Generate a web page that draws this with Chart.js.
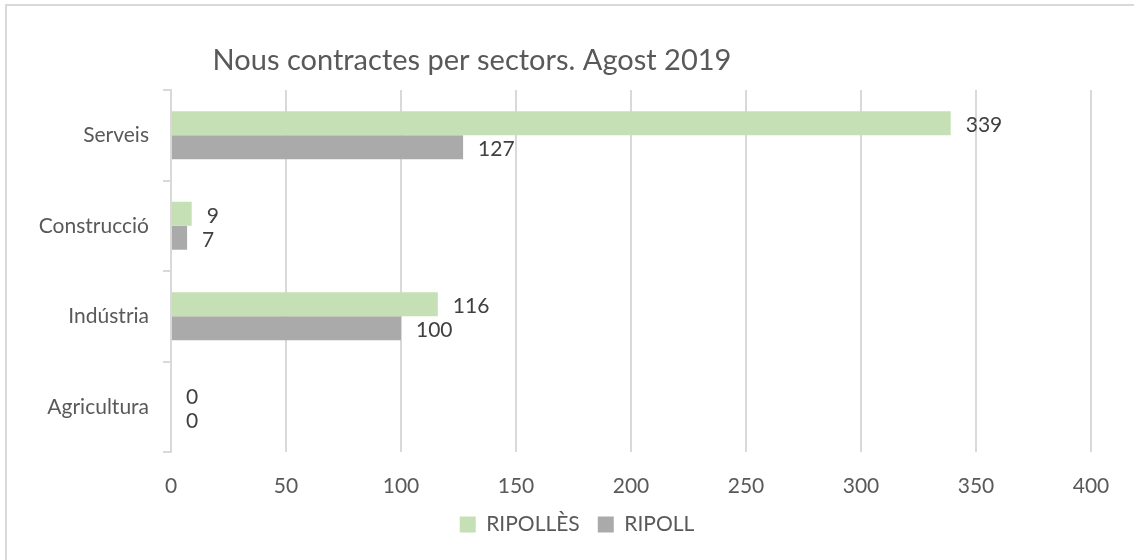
<!DOCTYPE html>
<html>
<head>
<meta charset="utf-8">
<script src="https://cdn.jsdelivr.net/npm/chart.js@4.4.0/dist/chart.umd.min.js"></script>
<style>
  html, body { margin: 0; padding: 0; background: #fff; }
  #wrap { width: 1134px; height: 560px; position: relative; }
</style>
</head>
<body>
<div id="wrap"><canvas id="chart"></canvas></div>
<script>
// values
const sectors = ['Serveis', 'Construcció', 'Indústria', 'Agricultura'];
const ripolles = [339, 9, 116, 0];
const ripoll = [127, 7, 100, 0];
const xTicksMax = 400;
const xTickStep = 50;
const chartTitle = 'Nous contractes per sectors. Agost 2019';

const FONT = "Lato, 'Open Sans', sans-serif";

// outer frame and title, drawn like the Excel chart (title off-centre)
const framePlugin = {
  id: 'frame',
  afterLayout(chart) {
    // Excel centres the legend a bit right of the canvas middle
    if (chart.legend) chart.legend.left = 63;
  },
  beforeDraw(chart) {
    const ctx = chart.ctx;
    ctx.save();
    ctx.fillStyle = '#fff';
    ctx.fillRect(0, 0, chart.width, chart.height);
    ctx.strokeStyle = '#d9d9d9';
    ctx.lineWidth = 2;
    ctx.beginPath();
    ctx.moveTo(6, chart.height + 5);
    ctx.lineTo(6, 5);
    ctx.lineTo(chart.width + 5, 5);
    ctx.stroke();
    ctx.restore();
  },
  afterDraw(chart) {
    const ctx = chart.ctx;
    ctx.save();
    ctx.font = '29px ' + FONT;
    ctx.fillStyle = '#595959';
    ctx.textAlign = 'center';
    ctx.textBaseline = 'middle';
    ctx.fillText(chartTitle, 472, 61);
    ctx.restore();
  }
};

// value labels next to each bar
const valueLabels = {
  id: 'valueLabels',
  afterDatasetsDraw(chart) {
    const ctx = chart.ctx;
    ctx.save();
    ctx.font = '21px ' + FONT;
    ctx.fillStyle = '#404040';
    ctx.textAlign = 'left';
    ctx.textBaseline = 'middle';
    chart.data.datasets.forEach((ds, i) => {
      const meta = chart.getDatasetMeta(i);
      meta.data.forEach((bar, j) => {
        ctx.fillText(String(ds.data[j]), bar.x + 15, bar.y + 2);
      });
    });
    ctx.restore();
  }
};

new Chart(document.getElementById('chart'), {
  type: 'bar',
  data: {
    labels: sectors,
    datasets: [
      {
        label: 'RIPOLLÈS',
        data: ripolles,
        backgroundColor: '#c5e0b4',
        categoryPercentage: 0.53,
        barPercentage: 1.0
      },
      {
        label: 'RIPOLL',
        data: ripoll,
        backgroundColor: '#aaaaaa',
        categoryPercentage: 0.53,
        barPercentage: 1.0
      }
    ]
  },
  options: {
    indexAxis: 'y',
    responsive: true,
    maintainAspectRatio: false,
    animation: false,
    layout: { padding: { top: 90, right: 43, left: 0, bottom: 15 } },
    scales: {
      x: {
        min: 0,
        max: xTicksMax,
        ticks: {
          stepSize: xTickStep,
          color: '#595959',
          font: { family: FONT, size: 21 },
          padding: 22
        },
        grid: { color: '#d9d9d9', lineWidth: 2, drawTicks: false },
        border: { display: false },
        afterFit(scale) { scale.height = 44; }
      },
      y: {
        ticks: {
          color: '#595959',
          font: { family: FONT, size: 21 },
          padding: 14
        },
        grid: {
          offset: true,
          drawOnChartArea: false,
          drawTicks: true,
          tickLength: 8,
          color: '#d9d9d9',
          lineWidth: 2
        },
        border: { display: true, color: '#d9d9d9', width: 2 },
        afterFit(scale) { scale.width = 171; }
      }
    },
    plugins: {
      title: { display: false },
      tooltip: { enabled: false },
      legend: {
        position: 'bottom',
        labels: {
          boxWidth: 16,
          boxHeight: 16,
          padding: 18,
          color: '#595959',
          font: { family: FONT, size: 21 }
        }
      }
    }
  },
  plugins: [framePlugin, valueLabels]
});
</script>
</body>
</html>
